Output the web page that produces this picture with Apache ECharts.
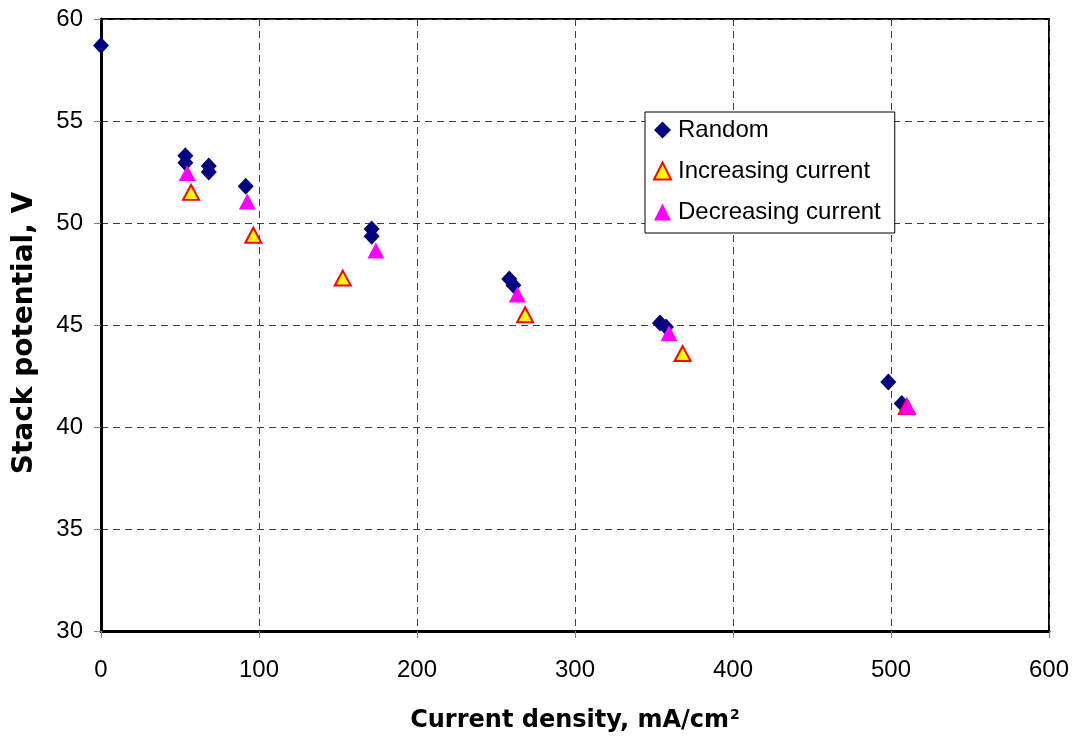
<!DOCTYPE html>
<html>
<head>
<meta charset="utf-8">
<script src="https://cdn.jsdelivr.net/npm/echarts@6/dist/echarts.min.js"></script>
<style>
  html, body { margin: 0; padding: 0; background: #fff; }
  #chart { width: 1078px; height: 742px; }
</style>
</head>
<body>
<div id="chart"></div>
<script>
// data: [current density mA/cm2, stack potential V]
var randomPts = [
  [0, 58.7],
  [53.4, 53.3], [53.4, 52.95],
  [68.2, 52.8], [68.2, 52.5],
  [91.6, 51.8],
  [171.3, 49.7], [171.3, 49.35],
  [258.4, 47.25], [261, 46.95],
  [353.8, 45.1], [357.6, 44.9],
  [498.3, 42.2], [506.8, 41.15]
];
var increasingPts = [
  [57, 51.5], [96.4, 49.4], [153, 47.3], [268.4, 45.5], [368.1, 43.6], [510, 41.0]
];
var decreasingPts = [
  [54.6, 52.45], [92.6, 51.05], [174, 48.65], [263.5, 46.5], [359.5, 44.6], [510.5, 41.0]
];
var seriesNames = ['Random', 'Increasing current', 'Decreasing current'];

var chart = echarts.init(document.getElementById('chart'));
var font = 'Liberation Sans, Arial, sans-serif';
var titleFont = 'DejaVu Sans, sans-serif';

chart.setOption({
  animation: false,
  textStyle: { fontFamily: font },
  grid: {
    left: 101, right: 29, top: 19, bottom: 111,
    containLabel: false, outerBoundsMode: 'none',
    show: true, borderColor: '#000', borderWidth: 2
  },
  legend: {
    orient: 'vertical',
    left: 645, top: 112,
    itemWidth: 17, itemHeight: 17, itemGap: 15,
    padding: [5, 14, 8, 8],
    borderColor: '#000', borderWidth: 1, backgroundColor: '#fff', borderRadius: 0,
    textStyle: { fontSize: 24, color: '#000', fontFamily: font, padding: [0, 0, 0, 2], lineHeight: 26 },
    data: seriesNames
  },
  xAxis: {
    type: 'value', min: 0, max: 600, interval: 100,
    name: '{a|Current density, mA/cm}{b|2}',
    nameLocation: 'middle', nameGap: 77,
    nameTextStyle: {
      rich: {
        a: { fontSize: 24, fontWeight: 'bold', color: '#000', fontFamily: titleFont },
        b: { fontSize: 14, fontWeight: 'bold', color: '#000', fontFamily: titleFont, verticalAlign: 'top', padding: [0, 0, 12, 1] }
      }
    },
    axisLine: { show: true, onZero: false, lineStyle: { color: '#000', width: 3 } },
    axisTick: { show: true, length: 7, lineStyle: { color: '#808080' } },
    axisLabel: { fontSize: 24, color: '#000', margin: 27 },
    splitLine: { show: true, lineStyle: { color: '#404040', type: [7, 5], width: 1 } }
  },
  yAxis: {
    type: 'value', min: 30, max: 60, interval: 5,
    name: 'Stack potential, V',
    nameLocation: 'middle', nameGap: 62,
    nameTextStyle: { fontSize: 28, fontWeight: 'bold', color: '#000', fontFamily: titleFont, padding: [0, 16, 0, 0] },
    axisLine: { show: true, onZero: false, lineStyle: { color: '#000', width: 3 } },
    axisTick: { show: true, length: 7, lineStyle: { color: '#808080' } },
    axisLabel: { fontSize: 24, color: '#000', margin: 18 },
    splitLine: { show: true, lineStyle: { color: '#404040', type: [7, 5], width: 1 } }
  },
  series: [
    {
      name: seriesNames[0], type: 'scatter', data: randomPts,
      symbol: 'diamond', symbolSize: [16, 17],
      itemStyle: { color: '#000080', opacity: 1 }, z: 3
    },
    {
      name: seriesNames[1], type: 'scatter', data: increasingPts,
      symbol: 'triangle', symbolSize: [16, 15],
      itemStyle: { color: '#ffff00', borderColor: '#ff0000', borderWidth: 2, opacity: 1 }, z: 4
    },
    {
      name: seriesNames[2], type: 'scatter', data: decreasingPts,
      symbol: 'triangle', symbolSize: [17, 16],
      itemStyle: { color: '#ff00ff', opacity: 1 }, z: 5
    }
  ]
});
</script>
</body>
</html>
